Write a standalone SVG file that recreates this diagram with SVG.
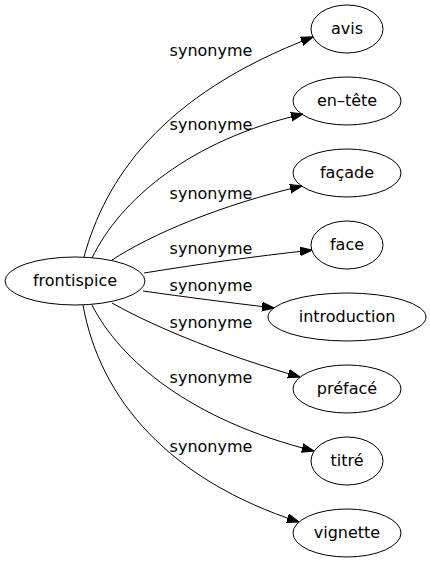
<svg xmlns="http://www.w3.org/2000/svg" width="430" height="563" viewBox="0 0 430 563">
<defs>
<style>
text{font-family:"DejaVu Sans",sans-serif;font-size:16px;fill:#000;}
.n text{text-anchor:middle;}
.n ellipse{fill:none;stroke:#000;stroke-width:1;}
.e path{fill:none;stroke:#000;stroke-width:1;marker-end:url(#ah);}
.e text{text-anchor:middle;}
</style>
<marker id="ah" markerUnits="userSpaceOnUse" markerWidth="12" markerHeight="10" refX="10" refY="3.5" orient="auto" viewBox="0 0 10 7">
<polygon points="0,0 10,3.5 0,7" fill="#000" stroke="#000" stroke-width="1"/>
</marker>
</defs>
<rect width="430" height="563" fill="#fff"/>
<g id="edges" class="e">
<path d="M84,257 C105,180 160,95 313,37"/>
<text x="211" y="56">synonyme</text>
<path d="M92,258 C120,200 190,140 303,114"/>
<text x="211" y="130">synonyme</text>
<path d="M112,260 C150,235 220,205 302,186"/>
<text x="211" y="199">synonyme</text>
<path d="M144,273 C200,264 250,257 312,250"/>
<text x="211" y="254">synonyme</text>
<path d="M143,291 C185,297 225,302 274,308"/>
<text x="211" y="291">synonyme</text>
<path d="M112,303 C160,330 230,357 300,377"/>
<text x="211" y="328">synonyme</text>
<path d="M92,305 C120,360 190,420 314,451"/>
<text x="211" y="383">synonyme</text>
<path d="M83,305 C100,400 170,480 299,522"/>
<text x="211" y="452">synonyme</text>
</g>
<g id="frontispice" class="n"><ellipse cx="75" cy="281" rx="70" ry="24"/><text x="75" y="286">frontispice</text></g>
<g id="avis" class="n"><ellipse cx="347" cy="29" rx="36" ry="24"/><text x="347" y="34">avis</text></g>
<g id="en-tete" class="n"><ellipse cx="347" cy="101" rx="54" ry="24"/><text x="347" y="106">en–tête</text></g>
<g id="facade" class="n"><ellipse cx="347" cy="173" rx="54" ry="24"/><text x="347" y="178">façade</text></g>
<g id="face" class="n"><ellipse cx="347" cy="245" rx="36" ry="24"/><text x="347" y="250">face</text></g>
<g id="introduction" class="n"><ellipse cx="347" cy="317" rx="79" ry="24"/><text x="347" y="322">introduction</text></g>
<g id="preface" class="n"><ellipse cx="347" cy="389" rx="54" ry="24"/><text x="347" y="394">préfacé</text></g>
<g id="titre" class="n"><ellipse cx="347" cy="461" rx="36" ry="24"/><text x="347" y="466">titré</text></g>
<g id="vignette" class="n"><ellipse cx="347" cy="533" rx="54" ry="24"/><text x="347" y="538">vignette</text></g>
</svg>
